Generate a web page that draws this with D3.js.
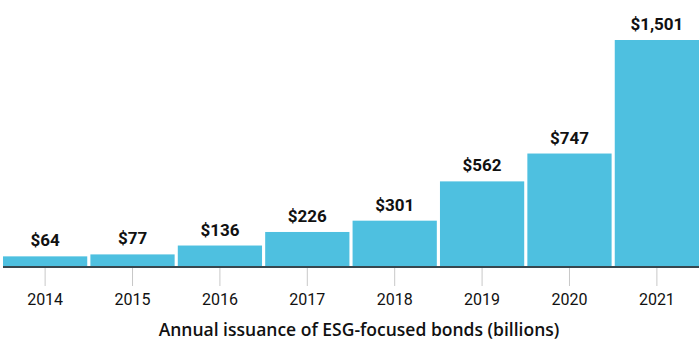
<!DOCTYPE html>
<html>
<head>
<meta charset="utf-8">
<script src="https://cdn.jsdelivr.net/npm/d3@7"></script>
<style>
  html, body { margin: 0; padding: 0; background: #fff; }
  svg { display: block; }
</style>
</head>
<body>
<svg id="chart" width="700" height="355"></svg>
<script>
const years = ["2014", "2015", "2016", "2017", "2018", "2019", "2020", "2021"];
const values = [64, 77, 136, 226, 301, 562, 747, 1501];
const valueLabels = ["$64", "$77", "$136", "$226", "$301", "$562", "$747", "$1,501"];
const title = "Annual issuance of ESG-focused bonds (billions)";

const svg = d3.select("#chart");
const baseY = 266;
const baseFont = "Roboto, 'Noto Sans', sans-serif";

const x = d3.scaleBand().domain(years).range([3, 699]).paddingInner(0.036).paddingOuter(0);
const y = d3.scaleLinear().domain([0, 1501]).range([baseY, 40]);

const data = years.map((yr, i) => ({ yr, v: values[i], label: valueLabels[i] }));

svg.append("g").selectAll("rect").data(data).join("rect")
  .attr("x", d => x(d.yr))
  .attr("width", x.bandwidth())
  .attr("y", d => y(d.v))
  .attr("height", d => baseY - y(d.v))
  .attr("fill", "#4ec0e0");

svg.append("g").selectAll("text").data(data).join("text")
  .attr("x", d => x(d.yr) + x.bandwidth() / 2)
  .attr("y", d => y(d.v) - 10)
  .attr("text-anchor", "middle")
  .style("font-family", baseFont)
  .style("font-size", "17px")
  .style("font-weight", 700)
  .attr("fill", "#111")
  .text(d => d.label);

// axis
const axis = d3.axisBottom(x).tickSize(19).tickPadding(8);
const gx = svg.append("g").attr("transform", `translate(0,${baseY + 1})`).call(axis);
gx.select(".domain").remove();
gx.selectAll(".tick line").attr("stroke", "#c8c8c8").attr("stroke-width", 1);
gx.selectAll(".tick text")
  .style("font-family", baseFont)
  .style("font-size", "16px")
  .attr("fill", "#111");

svg.append("line")
  .attr("x1", 3).attr("x2", 699)
  .attr("y1", baseY + 1).attr("y2", baseY + 1)
  .attr("stroke", "#37474f").attr("stroke-width", 2);

svg.append("text")
  .attr("x", 359)
  .attr("y", 336)
  .attr("text-anchor", "middle")
  .style("font-family", "'Open Sans', Roboto, sans-serif")
  .style("font-size", "17.5px")
  .style("font-weight", 600)
  .attr("fill", "#111")
  .text(title);
</script>
</body>
</html>
